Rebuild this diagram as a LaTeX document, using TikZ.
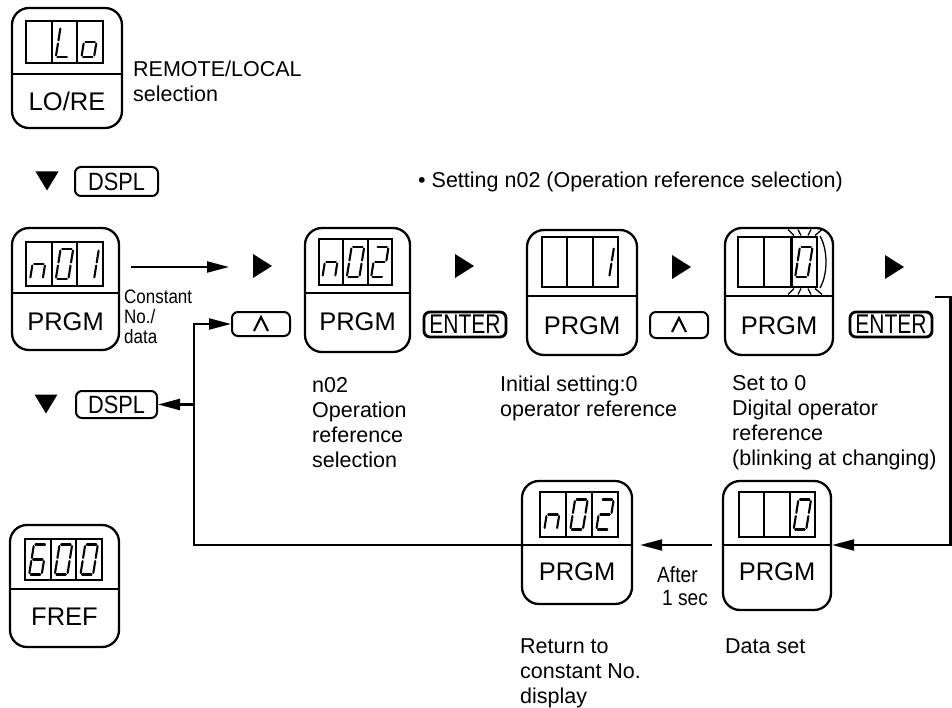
\documentclass[tikz,border=0pt]{standalone}
\usepackage{fontspec}
\setmainfont{Liberation Sans}
\newfontfamily\cnda[FakeStretch=0.78]{Liberation Sans}
\newfontfamily\cndb[FakeStretch=0.87]{Liberation Sans}
\usetikzlibrary{arrows.meta}
\def\dgnone{none}
\def\dgL{TL/ML,ML/BL,BL/BR}
\def\dgo{ML/MR,MR/BR,BL/BR,ML/BL}
\def\dgn{ML/MR,ML/BL,MR/BR}
\def\dgzero{TL/TR,TR/MR,MR/BR,BL/BR,ML/BL,TL/ML}
\def\dgone{TR/MR,MR/BR}
\def\dgtwo{TL/TR,TR/MR,ML/MR,ML/BL,BL/BR}
\def\dgsix{TL/TR,TL/ML,ML/MR,ML/BL,BL/BR,MR/BR}
\newcommand\segdig[3]{%
 \ifx#3\dgnone\else
 \begin{scope}[shift={(#1,#2)},xslant=0.16]
  \coordinate (TL) at (-6.3,-15); \coordinate (TR) at (6.3,-15);
  \coordinate (ML) at (-6.3,0);   \coordinate (MR) at (6.3,0);
  \coordinate (BL) at (-6.3,15);  \coordinate (BR) at (6.3,15);
  \foreach \p/\q in #3 {\draw[seg] (\p) -- (\q);}
 \end{scope}\fi}
\newcommand\dispbox[7]{%
 \draw[disp] (#1,#2) rectangle (#3,#4);
 \draw[disp] ({#1+(#3-#1)/3},#2) -- ({#1+(#3-#1)/3},#4);
 \draw[disp] ({#1+2*(#3-#1)/3},#2) -- ({#1+2*(#3-#1)/3},#4);
 \segdig{{#1+(#3-#1)/6}}{{(#2+#4)/2}}{#5}%
 \segdig{{#1+(#3-#1)/2}}{{(#2+#4)/2}}{#6}%
 \segdig{{#1+5*(#3-#1)/6}}{{(#2+#4)/2}}{#7}}
\newcommand\panelbox[8]{%
 \node[panel, minimum width={#4-#2}, minimum height={#5-#3}] (#1) at ({(#2+#4)/2},{(#3+#5)/2}) {};
 \draw[conn] (#1.west |- 0,#6) -- (#1.east |- 0,#6);
 \node[big] (#1-l) at ({(#2+#4)/2},#8) {#7};}
\newcommand\tri[2]{\fill (#1-9,#2-12) -- (#1+10,#2) -- (#1-9,#2+12) -- cycle;}
\newcommand\tdn[2]{\fill (#1-11.5,#2-9.5) -- (#1+11.5,#2-9.5) -- (#1,#2+9.5) -- cycle;}
\begin{document}
\begin{tikzpicture}[x=1pt,y=-1pt,
  panel/.style={draw, line width=2.3pt, rounded corners=17pt, inner sep=0pt},
  disp/.style={line width=2.1pt},
  seg/.style={line width=2.1pt, line cap=round, shorten >=1.6pt, shorten <=1.6pt},
  key/.style={draw, line width=2pt, rounded corners=6pt, inner sep=0pt, font=\cndb\fontsize{25}{25}\selectfont},
  enterkey/.style={key, line width=2.8pt, font=\cnda\fontsize{27}{27}\selectfont},
  lab/.style={font=\fontsize{21.5}{25}\selectfont, align=left, inner sep=0pt, anchor=north west},
  small/.style={font=\cndb\fontsize{19.5}{20}\selectfont, align=left, inner sep=0pt, anchor=north west},
  big/.style={font=\fontsize{25.5}{26}\selectfont, inner sep=0pt},
  conn/.style={line width=2.2pt},
  arr/.style={conn, -{Triangle[length=22pt,width=11pt]}}]
\useasboundingbox (0,0) rectangle (952,708);

% LO/RE panel
\panelbox{lore}{12}{8}{122}{128}{74}{LO/RE}{101}
\dispbox{26}{21}{103}{63}{\dgnone}{\dgL}{\dgo}
\node[lab] (remote) at (133,61) {REMOTE/LOCAL\\selection};

% DSPL 1
\tdn{47}{181}
\node[key, minimum width=83, minimum height=29] (dspl1) at (116.5,181.5) {DSPL};

\node[lab] (title) at (418,172) {• Setting n02 (Operation reference selection)};

% n01 panel
\panelbox{n01}{12}{228}{119}{350}{293}{PRGM}{322}
\dispbox{26}{242}{103}{286}{\dgn}{\dgzero}{\dgone}
\node[small] (const) at (124,290) {Constant\\No./\\data};
\coordinate (a1end) at (229,267);
\draw[arr, shorten <=11pt] (n01.east |- 0,267) -- (a1end);
\tri{262}{266}

% up key 1
\node[key, minimum width=58, minimum height=24] (up1) at (261,324) {};
\draw[line width=2.2pt] ([shift={(-7,7)}]up1.center) -- ([shift={(0,-7)}]up1.center) -- ([shift={(7,7)}]up1.center);

% n02 panel
\panelbox{n02}{305}{228}{410}{352}{293}{PRGM}{322}
\dispbox{319}{239}{392}{285}{\dgn}{\dgzero}{\dgtwo}
\node[lab] (n02t) at (312,377) {n02\\Operation\\reference\\selection};

\tri{464}{266}
\node[enterkey, minimum width=82, minimum height=25] (ent1) at (465,324.5) {ENTER};

% panel 1
\panelbox{p1}{527}{230}{637}{355}{296}{PRGM}{326}
\dispbox{542}{237}{618}{287}{\dgnone}{\dgnone}{\dgone}
\node[lab] (p1t) at (500,376) {Initial setting:0\\operator reference};

\tri{681}{267}
\node[key, minimum width=58, minimum height=26] (up2) at (679,325) {};
\draw[line width=2.2pt] ([shift={(-7,7)}]up2.center) -- ([shift={(0,-7)}]up2.center) -- ([shift={(7,7)}]up2.center);

% panel 0 (blinking)
\panelbox{p0}{725}{228}{833}{355}{296}{PRGM}{326}
\dispbox{738}{237}{817}{287}{\dgnone}{\dgnone}{\dgzero}
\draw[line width=2.8pt] (791.7,237) rectangle (817,287);
\foreach \a/\b in {794/788,801/798,808/811,815/822}{
  \draw[line width=1.3pt] (\a,235.5) -- (\b,229.5);
  \draw[line width=1.3pt] (\a,288.5) -- (\b,294.5);}
\draw[line width=1.3pt] (820,236) .. controls (828,250) and (828,274) .. (820,288);
\node[lab] (p0t) at (732,375) {Set to 0\\Digital operator\\reference\\(blinking at changing)};

\tri{894}{267}
\node[enterkey, minimum width=82, minimum height=25] (ent2) at (891,324.5) {ENTER};

% bottom panels
\panelbox{z2}{723}{481}{831}{610}{545}{PRGM}{572}
\dispbox{739}{492}{815}{537}{\dgnone}{\dgnone}{\dgzero}
\node[lab] (z2t) at (725,639) {Data set};

\panelbox{n02b}{522}{481}{632}{604}{545}{PRGM}{572}
\dispbox{540}{492}{618}{537}{\dgn}{\dgzero}{\dgtwo}
\node[lab] (n02bt) at (520,639) {Return to\\constant No.\\display};

\node[font=\cndb\fontsize{22}{23}\selectfont, align=left, inner sep=0pt, anchor=north west] (after) at (657,566) {After\\\hspace{5pt}1 sec};

% FREF panel
\panelbox{fref}{10}{525}{119}{647}{589}{FREF}{617}
\dispbox{25}{539}{102}{580}{\dgsix}{\dgzero}{\dgzero}

% DSPL 2
\tdn{46}{404}
\node[key, minimum width=81, minimum height=27] (dspl2) at (116.5,404.5) {DSPL};

% connectors
\coordinate (loopx) at (194,324);
\draw[arr] (n02b.west |- 0,545) -| (loopx) -- (up1.west);
\draw[arr] (loopx |- dspl2) -- (dspl2.east);
\coordinate (rs) at (935,297);
\coordinate (rtop) at (950.5,297);
\draw[arr] (rs) -- (rtop) |- (z2.east |- 0,545);
\draw[arr, shorten <=10pt, shorten >=7pt] (z2.west |- 0,545) -- (n02b.east |- 0,545);
\end{tikzpicture}
\end{document}
